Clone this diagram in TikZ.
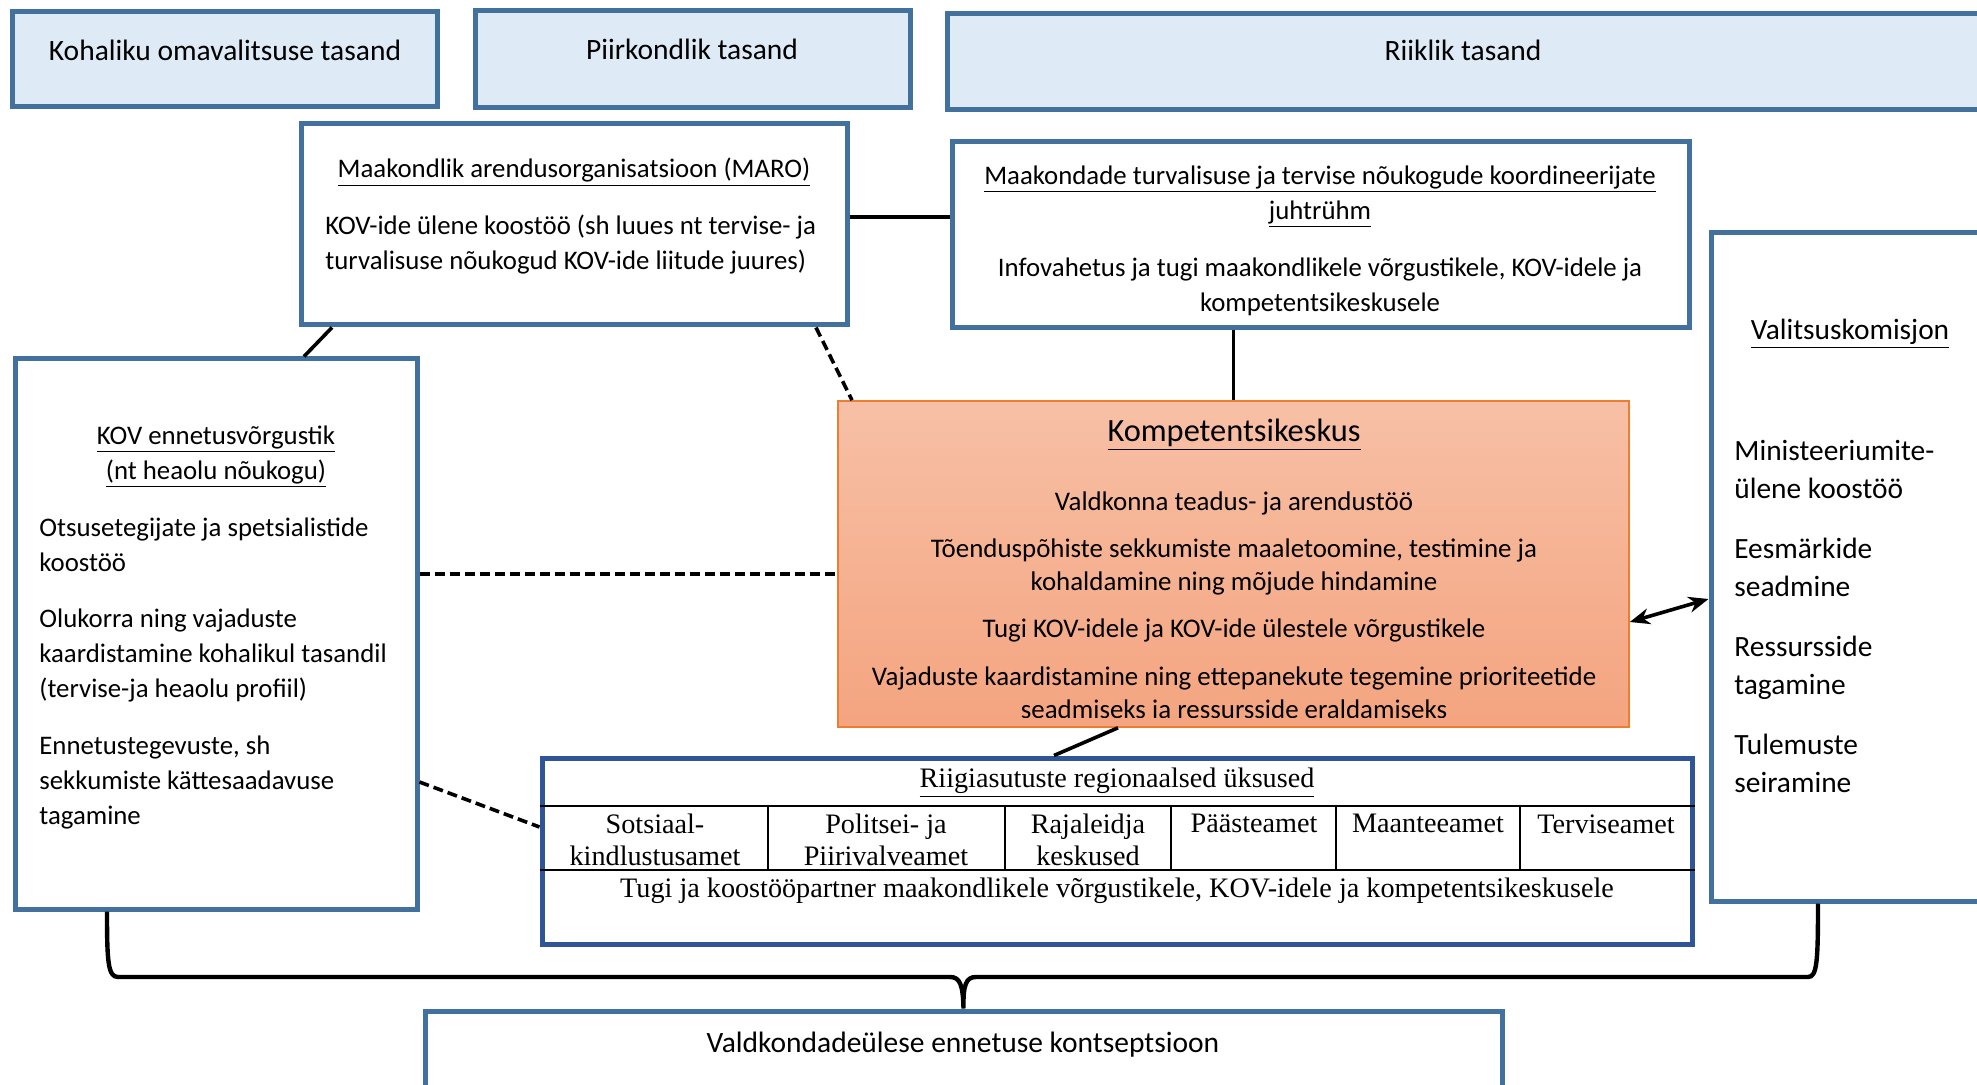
\documentclass[tikz,border=0pt]{standalone}
\usepackage{fontspec}
\setmainfont{Carlito}
\newfontfamily\tabfont{Liberation Serif}
\usepackage{tikz}
\usetikzlibrary{arrows.meta,calc,fit,positioning}
\definecolor{lvlblue}{HTML}{41719C}
\definecolor{lvlfill}{HTML}{DEEBF7}
\definecolor{tabblue}{HTML}{2F5597}
\definecolor{kktop}{HTML}{F7C0A6}
\definecolor{kkbot}{HTML}{F4A47F}
\definecolor{kkline}{HTML}{ED7D31}
\tikzset{
	level/.style={draw=lvlblue, fill=lvlfill, line width=2.5pt, inner sep=0pt},
	unit/.style={draw=lvlblue, fill=white, line width=2.5pt, inner sep=0pt},
	tab box/.style={draw=tabblue, fill=white, line width=2.5pt, inner sep=0pt},
	kk box/.style={draw=kkline, line width=0.8pt, top color=kktop, bottom color=kkbot, inner sep=0pt},
	lvl txt/.style={font=\fontsize{14.75}{17}\selectfont, inner sep=0pt},
	body/.style={font=\fontsize{13.4}{17.5}\selectfont, inner sep=0pt},
	kk body/.style={font=\fontsize{13.45}{16.3}\selectfont, inner sep=0pt, align=center, anchor=north},
	vk body/.style={font=\fontsize{14.7}{19}\selectfont, inner sep=0pt},
	tab txt/.style={font=\tabfont\fontsize{14.1}{16}\selectfont, inner sep=0pt, align=center},
	link/.style={line width=1.8pt},
	dlink/.style={line width=1.8pt, dash pattern=on 5pt off 2.5pt},
	tab line/.style={line width=1.3pt}
}
\begin{document}
\begin{tikzpicture}[x=0.5pt,y=-0.5pt]
   \useasboundingbox (0,0) rectangle (1977,1085);
   % tasandid
   \node[level, fit={(12,12) (437,107)}] (kov lvl) {};
   \node[level, fit={(475,11) (910,108)}] (piir lvl) {};
   \node[level, fit={(947,14) (1995,110)}] (riik lvl) {};
   \node[lvl txt] (kov lvl txt) at (225,50) {Kohaliku omavalitsuse tasand};
   \node[lvl txt] (piir lvl txt) at (692,49) {Piirkondlik tasand};
   \node[lvl txt] (riik lvl txt) at (1463,50) {Riiklik tasand};
   % organisatsioonid
   \node[unit, fit={(301,124) (847,325)}] (maro) {};
   \node[unit, fit={(952,142) (1689,328)}] (maak) {};
   \node[unit, fit={(1711,233) (1995,901)}] (vk) {};
   \node[unit, fit={(15,359) (417,909)}] (kov) {};
   \node[kk box, fit={(838,401) (1629,727)}] (kk) {};
   \node[tab box, fit={(542,758) (1692,944)}] (riig) {};
   \node[unit, fit={(425,1011) (1502,1100)}] (valdk) {};
   % tekstid
   \node[body] (maro title) at (574,172) {\underline{Maakondlik arendusorganisatsioon (MARO)}};
   \node[body, align=left, anchor=north west] (maro txt) at (325,215)
      {KOV-ide ülene koostöö (sh luues nt tervise- ja\\turvalisuse nõukogud KOV-ide liitude juures)};
   \node[body, align=center, anchor=north] (maak title) at (1320,165)
      {\underline{Maakondade turvalisuse ja tervise nõukogude koordineerijate}\\\underline{juhtrühm}};
   \node[body, align=center, anchor=north] (maak txt) at (1320,257)
      {Infovahetus ja tugi maakondlikele võrgustikele, KOV-idele ja\\kompetentsikeskusele};
   \node[body, align=center, anchor=north] (kov title) at (216,425)
      {\underline{KOV ennetusvõrgustik}\\\underline{(nt heaolu nõukogu)}};
   \node[body, align=left, anchor=north west] (kov txt) at (39,517)
      {Otsusetegijate ja spetsialistide\\koostöö\\[10.5pt]
       Olukorra ning vajaduste\\kaardistamine kohalikul tasandil\\(tervise-ja heaolu profiil)\\[11pt]
       Ennetustegevuste, sh\\sekkumiste kättesaadavuse\\tagamine};
   \node[vk body] (vk title) at (1850,334) {\underline{Valitsuskomisjon}};
   \node[vk body, align=left, anchor=north west] (vk txt) at (1734,440)
      {Ministeeriumite-\\ülene koostöö\\[11pt]
       Eesmärkide\\seadmine\\[11pt]
       Ressursside\\tagamine\\[11pt]
       Tulemuste\\seiramine};
   \node[font=\fontsize{16.2}{20}\selectfont, inner sep=0pt] (kk title) at (1234,435) {\underline{Kompetentsikeskus}};
   \begin{scope}
      \clip (kk.north west) rectangle ($(kk.south east)+(0,-10)$);
      \node[kk body] (kk txt) at (1234,491)
         {Valdkonna teadus- ja arendustöö\\[7.5pt]
          Tõenduspõhiste sekkumiste maaletoomine, testimine ja\\kohaldamine ning mõjude hindamine\\[7.5pt]
          Tugi KOV-idele ja KOV-ide ülestele võrgustikele\\[7.5pt]
          Vajaduste kaardistamine ning ettepanekute tegemine prioriteetide\\seadmiseks ja ressursside eraldamiseks};
   \end{scope}
   % riigiasutused
   \draw[tab line] (riig.west |- 0,806) -- (riig.east |- 0,806)
      (riig.west |- 0,870) -- (riig.east |- 0,870);
   \foreach \x in {768,1005,1171,1336,1520}
      \draw[tab line] (\x,806) -- (\x,870);
   \node[tab txt] (riig title) at (1117,783) {\underline{Riigiasutuste regionaalsed üksused}};
   \node[tab txt, anchor=north] (sots) at (655,814) {Sotsiaal-\\kindlustusamet};
   \node[tab txt, anchor=north] (ppa) at (886,814) {Politsei- ja\\Piirivalveamet};
   \node[tab txt, anchor=north] (raja) at (1088,814) {Rajaleidja\\keskused};
   \node[tab txt, anchor=north] (paaste) at (1254,814) {Päästeamet};
   \node[tab txt, anchor=north] (mnt) at (1428,814) {Maanteeamet};
   \node[tab txt, anchor=north] (terv) at (1606,814) {Terviseamet};
   \node[tab txt] (riig txt) at (1117,891) {Tugi ja koostööpartner maakondlikele võrgustikele, KOV-idele ja kompetentsikeskusele};
   \node[lvl txt] (valdk txt) at (963,1045) {Valdkondadeülese ennetuse kontseptsioon};
   % seosed
   \draw[link] (maro.east |- 0,217) -- (maak.west |- 0,217);
   \draw[link] (maro.south -| 332,0) -- (kov.north -| 304,0);
   \draw[dlink] (maro.south -| 816,0) -- (kk.north -| 852,0);
   \draw[link] (maak.south -| kk.north) -- (kk.north);
   \draw[dlink] (kov.east |- 0,574) -- (kk.west |- 0,574);
   \draw[dlink] (kov.east |- 0,782) -- (riig.west |- 0,827);
   \draw[link] (kk.south -| 1118,0) -- (riig.north -| 1054,0);
   \draw[link, {Stealth[length=10pt,width=8pt]}-{Stealth[length=10pt,width=8pt]}] (kk.east |- 0,622) -- (vk.west |- 0,599);
   % sulg
   \draw[line width=2.2pt] (kov.south -| 107,0) .. controls (107,962) and (108,977) .. (118,977)
      -- (950,977) .. controls (960,977) and (963,985) .. (valdk.north)
      .. controls (963,985) and (966,977) .. (976,977) -- (1808,977)
      .. controls (1817,977) and (1818,962) .. (vk.south -| 1818,0);
\end{tikzpicture}
\end{document}
